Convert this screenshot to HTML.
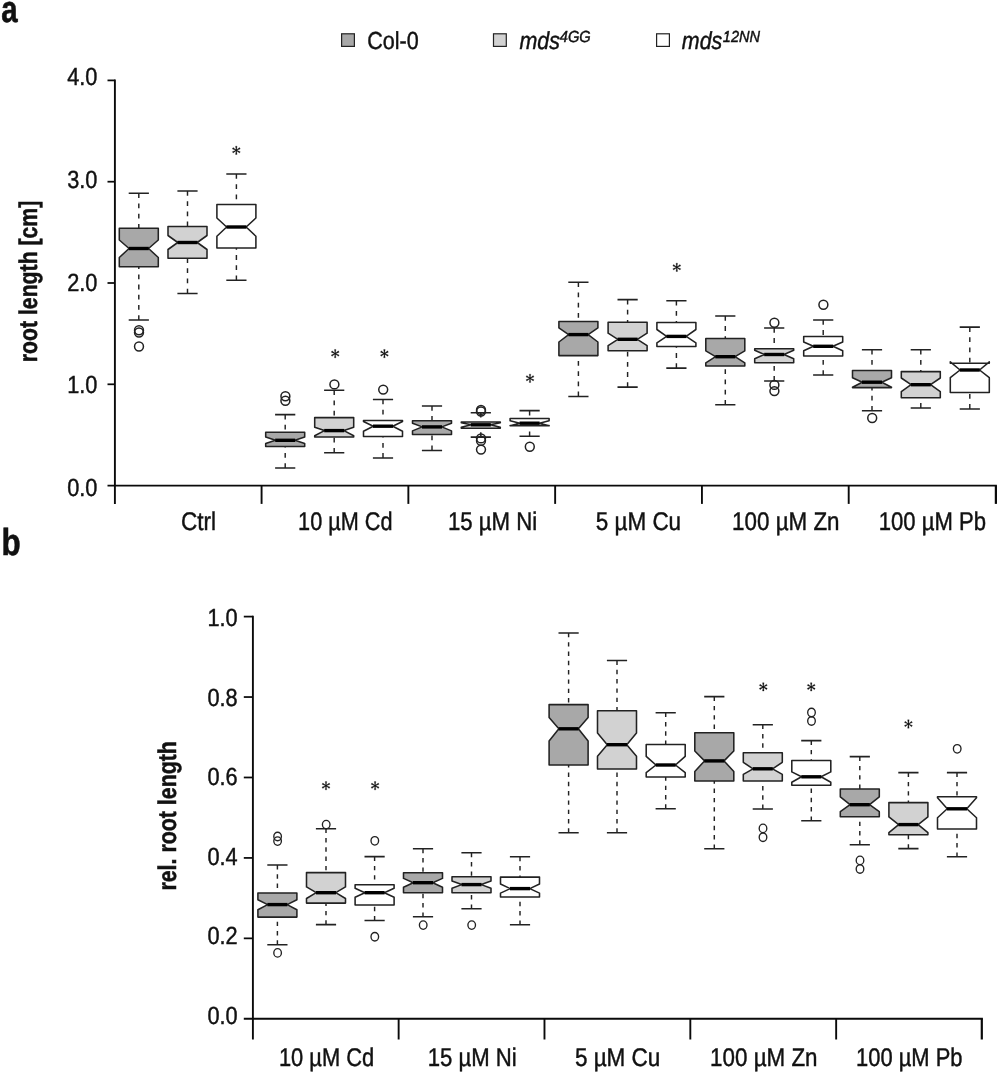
<!DOCTYPE html>
<html><head><meta charset="utf-8"><title>Figure</title>
<style>
html,body{margin:0;padding:0;background:#fff;}
body{width:1000px;height:1074px;position:relative;overflow:hidden;font-family:"Liberation Sans",sans-serif;}
</style></head><body>
<svg width="1000" height="1074" viewBox="0 0 1000 1074" style="position:absolute;left:0;top:0;will-change:transform;text-rendering:geometricPrecision">
<rect width="1000" height="1074" fill="#fff"/>
<path d="M114.9 79.60000000000001V503.9" stroke="#0a0a0a" stroke-width="1.9" fill="none"/>
<path d="M107.5 485.6H996.9" stroke="#0a0a0a" stroke-width="1.9" fill="none"/>
<path d="M107.5 80.4H114.8" stroke="#0a0a0a" stroke-width="1.75"/>
<path d="M107.5 181.7H114.8" stroke="#0a0a0a" stroke-width="1.75"/>
<path d="M107.5 283.0H114.8" stroke="#0a0a0a" stroke-width="1.75"/>
<path d="M107.5 384.3H114.8" stroke="#0a0a0a" stroke-width="1.75"/>
<path d="M261.58 485.6V503.9" stroke="#0a0a0a" stroke-width="1.9"/>
<path d="M408.36 485.6V503.9" stroke="#0a0a0a" stroke-width="1.9"/>
<path d="M555.14 485.6V503.9" stroke="#0a0a0a" stroke-width="1.9"/>
<path d="M701.92 485.6V503.9" stroke="#0a0a0a" stroke-width="1.9"/>
<path d="M848.7 485.6V503.9" stroke="#0a0a0a" stroke-width="1.9"/>
<path d="M995.88 485.6V503.9" stroke="#0a0a0a" stroke-width="2.2"/>
<path d="M252.9 615.8000000000001V1039.5" stroke="#0a0a0a" stroke-width="1.9" fill="none"/>
<path d="M243.8 1018.8H982.9" stroke="#0a0a0a" stroke-width="1.9" fill="none"/>
<path d="M243.8 616.6H252.9" stroke="#0a0a0a" stroke-width="1.75"/>
<path d="M243.8 697.04H252.9" stroke="#0a0a0a" stroke-width="1.75"/>
<path d="M243.8 777.48H252.9" stroke="#0a0a0a" stroke-width="1.75"/>
<path d="M243.8 857.92H252.9" stroke="#0a0a0a" stroke-width="1.75"/>
<path d="M243.8 938.36H252.9" stroke="#0a0a0a" stroke-width="1.75"/>
<path d="M398.64 1018.8V1039.5" stroke="#0a0a0a" stroke-width="1.9"/>
<path d="M544.48 1018.8V1039.5" stroke="#0a0a0a" stroke-width="1.9"/>
<path d="M690.32 1018.8V1039.5" stroke="#0a0a0a" stroke-width="1.9"/>
<path d="M836.16 1018.8V1039.5" stroke="#0a0a0a" stroke-width="1.9"/>
<path d="M981.8 1018.8V1039.5" stroke="#0a0a0a" stroke-width="2.2"/>
<text x="67.2" y="85.1" font-family="Liberation Sans, sans-serif" font-size="24.9" font-weight="normal" font-style="normal" text-anchor="start" fill="#111" stroke="#111" stroke-width="0.45" textLength="30.2" lengthAdjust="spacingAndGlyphs">4.0</text>
<text x="67.2" y="187.9" font-family="Liberation Sans, sans-serif" font-size="24.9" font-weight="normal" font-style="normal" text-anchor="start" fill="#111" stroke="#111" stroke-width="0.45" textLength="30.2" lengthAdjust="spacingAndGlyphs">3.0</text>
<text x="67.2" y="290.5" font-family="Liberation Sans, sans-serif" font-size="24.9" font-weight="normal" font-style="normal" text-anchor="start" fill="#111" stroke="#111" stroke-width="0.45" textLength="30.2" lengthAdjust="spacingAndGlyphs">2.0</text>
<text x="67.2" y="393" font-family="Liberation Sans, sans-serif" font-size="24.9" font-weight="normal" font-style="normal" text-anchor="start" fill="#111" stroke="#111" stroke-width="0.45" textLength="30.2" lengthAdjust="spacingAndGlyphs">1.0</text>
<text x="67.2" y="495.8" font-family="Liberation Sans, sans-serif" font-size="24.9" font-weight="normal" font-style="normal" text-anchor="start" fill="#111" stroke="#111" stroke-width="0.45" textLength="30.2" lengthAdjust="spacingAndGlyphs">0.0</text>
<text x="207.4" y="626" font-family="Liberation Sans, sans-serif" font-size="24.9" font-weight="normal" font-style="normal" text-anchor="start" fill="#111" stroke="#111" stroke-width="0.45" textLength="30.2" lengthAdjust="spacingAndGlyphs">1.0</text>
<text x="207.4" y="705.8" font-family="Liberation Sans, sans-serif" font-size="24.9" font-weight="normal" font-style="normal" text-anchor="start" fill="#111" stroke="#111" stroke-width="0.45" textLength="30.2" lengthAdjust="spacingAndGlyphs">0.8</text>
<text x="207.4" y="785.4" font-family="Liberation Sans, sans-serif" font-size="24.9" font-weight="normal" font-style="normal" text-anchor="start" fill="#111" stroke="#111" stroke-width="0.45" textLength="30.2" lengthAdjust="spacingAndGlyphs">0.6</text>
<text x="207.4" y="864.8" font-family="Liberation Sans, sans-serif" font-size="24.9" font-weight="normal" font-style="normal" text-anchor="start" fill="#111" stroke="#111" stroke-width="0.45" textLength="30.2" lengthAdjust="spacingAndGlyphs">0.4</text>
<text x="207.4" y="944" font-family="Liberation Sans, sans-serif" font-size="24.9" font-weight="normal" font-style="normal" text-anchor="start" fill="#111" stroke="#111" stroke-width="0.45" textLength="30.2" lengthAdjust="spacingAndGlyphs">0.2</text>
<text x="207.4" y="1023.7" font-family="Liberation Sans, sans-serif" font-size="24.9" font-weight="normal" font-style="normal" text-anchor="start" fill="#111" stroke="#111" stroke-width="0.45" textLength="30.2" lengthAdjust="spacingAndGlyphs">0.0</text>
<text x="181" y="529.8" font-family="Liberation Sans, sans-serif" font-size="25.5" font-weight="normal" font-style="normal" text-anchor="start" fill="#111" stroke="#111" stroke-width="0.45" textLength="35.1" lengthAdjust="spacingAndGlyphs">Ctrl</text>
<text x="298.1" y="529.8" font-family="Liberation Sans, sans-serif" font-size="25.5" font-weight="normal" font-style="normal" text-anchor="start" fill="#111" stroke="#111" stroke-width="0.45" textLength="94.4" lengthAdjust="spacingAndGlyphs">10 µM Cd</text>
<text x="447.9" y="529.8" font-family="Liberation Sans, sans-serif" font-size="25.5" font-weight="normal" font-style="normal" text-anchor="start" fill="#111" stroke="#111" stroke-width="0.45" textLength="89.2" lengthAdjust="spacingAndGlyphs">15 µM Ni</text>
<text x="595.8" y="529.8" font-family="Liberation Sans, sans-serif" font-size="25.5" font-weight="normal" font-style="normal" text-anchor="start" fill="#111" stroke="#111" stroke-width="0.45" textLength="85.3" lengthAdjust="spacingAndGlyphs">5 µM Cu</text>
<text x="732.1" y="529.8" font-family="Liberation Sans, sans-serif" font-size="25.5" font-weight="normal" font-style="normal" text-anchor="start" fill="#111" stroke="#111" stroke-width="0.45" textLength="107.4" lengthAdjust="spacingAndGlyphs">100 µM Zn</text>
<text x="878.8" y="529.8" font-family="Liberation Sans, sans-serif" font-size="25.5" font-weight="normal" font-style="normal" text-anchor="start" fill="#111" stroke="#111" stroke-width="0.45" textLength="107.3" lengthAdjust="spacingAndGlyphs">100 µM Pb</text>
<text x="278.9" y="1066" font-family="Liberation Sans, sans-serif" font-size="25.5" font-weight="normal" font-style="normal" text-anchor="start" fill="#111" stroke="#111" stroke-width="0.45" textLength="95.4" lengthAdjust="spacingAndGlyphs">10 µM Cd</text>
<text x="427.7" y="1066" font-family="Liberation Sans, sans-serif" font-size="25.5" font-weight="normal" font-style="normal" text-anchor="start" fill="#111" stroke="#111" stroke-width="0.45" textLength="89" lengthAdjust="spacingAndGlyphs">15 µM Ni</text>
<text x="574.9" y="1066" font-family="Liberation Sans, sans-serif" font-size="25.5" font-weight="normal" font-style="normal" text-anchor="start" fill="#111" stroke="#111" stroke-width="0.45" textLength="85.4" lengthAdjust="spacingAndGlyphs">5 µM Cu</text>
<text x="710.1" y="1066" font-family="Liberation Sans, sans-serif" font-size="25.5" font-weight="normal" font-style="normal" text-anchor="start" fill="#111" stroke="#111" stroke-width="0.45" textLength="107.4" lengthAdjust="spacingAndGlyphs">100 µM Zn</text>
<text x="856.1" y="1066" font-family="Liberation Sans, sans-serif" font-size="25.5" font-weight="normal" font-style="normal" text-anchor="start" fill="#111" stroke="#111" stroke-width="0.45" textLength="106.4" lengthAdjust="spacingAndGlyphs">100 µM Pb</text>
<text x="1.3" y="22.3" font-family="Liberation Sans, sans-serif" font-size="37.6" font-weight="bold" font-style="normal" text-anchor="start" fill="#111" stroke="#111" stroke-width="0.6" textLength="16.4" lengthAdjust="spacingAndGlyphs">a</text>
<text x="1.5" y="554.6" font-family="Liberation Sans, sans-serif" font-size="37.6" font-weight="bold" font-style="normal" text-anchor="start" fill="#111" stroke="#111" stroke-width="0.6" textLength="19.2" lengthAdjust="spacingAndGlyphs">b</text>
<text transform="translate(36.6 362.2) rotate(-90)" font-family="Liberation Sans, sans-serif" font-size="25.6" font-weight="bold" fill="#111" stroke="#111" stroke-width="0.5" textLength="161.5" lengthAdjust="spacingAndGlyphs">root length [cm]</text>
<text transform="translate(175.7 890.6) rotate(-90)" font-family="Liberation Sans, sans-serif" font-size="25.6" font-weight="bold" fill="#111" stroke="#111" stroke-width="0.5" textLength="149.5" lengthAdjust="spacingAndGlyphs">rel. root length</text>
<rect x="341.6" y="33.8" width="12.8" height="12.6" fill="#a8a8a8" stroke="#222" stroke-width="1.2"/>
<rect x="493.5" y="33.8" width="12.8" height="12.6" fill="#d2d2d2" stroke="#222" stroke-width="1.2"/>
<rect x="656.6" y="33.8" width="12.8" height="12.6" fill="#fff" stroke="#222" stroke-width="1.2"/>
<text x="367.2" y="49.4" font-family="Liberation Sans, sans-serif" font-size="24.6" font-weight="normal" font-style="normal" text-anchor="start" fill="#111" stroke="#111" stroke-width="0.45" textLength="51.5" lengthAdjust="spacingAndGlyphs">Col-0</text>
<text x="519.5" y="48.8" font-family="Liberation Sans, sans-serif" font-size="24.6" font-weight="normal" font-style="italic" text-anchor="start" fill="#111" stroke="#111" stroke-width="0.45" textLength="40.5" lengthAdjust="spacingAndGlyphs">mds</text>
<text x="559.8" y="42" font-family="Liberation Sans, sans-serif" font-size="16" font-weight="normal" font-style="italic" text-anchor="start" fill="#111" stroke="#111" stroke-width="0.45" textLength="31" lengthAdjust="spacingAndGlyphs">4GG</text>
<text x="681.8" y="48.8" font-family="Liberation Sans, sans-serif" font-size="24.6" font-weight="normal" font-style="italic" text-anchor="start" fill="#111" stroke="#111" stroke-width="0.45" textLength="40.5" lengthAdjust="spacingAndGlyphs">mds</text>
<text x="722.8" y="42" font-family="Liberation Sans, sans-serif" font-size="16" font-weight="normal" font-style="italic" text-anchor="start" fill="#111" stroke="#111" stroke-width="0.45" textLength="37.2" lengthAdjust="spacingAndGlyphs">12NN</text>
<path d="M138.8 193.3V228.3M138.8 320V266.8" stroke="#222" stroke-width="1.45" stroke-dasharray="4.8 5.4" fill="none"/>
<path d="M128.7 193.3H148.9M128.7 320H148.9" stroke="#222" stroke-width="1.55" fill="none"/>
<polygon points="119.3,266.8 119.3,257.5 129.05,248.5 119.3,240 119.3,228.3 158.3,228.3 158.3,240 148.55,248.5 158.3,257.5 158.3,266.8" fill="#a8a8a8" stroke="#222" stroke-width="1.55" stroke-linejoin="round"/>
<line x1="128.8" y1="248.5" x2="148.8" y2="248.5" stroke="#000" stroke-width="3.4"/>
<ellipse cx="139" cy="330.3" rx="4.45" ry="4.45" fill="none" stroke="#222" stroke-width="1.5"/>
<ellipse cx="139" cy="332.5" rx="4.45" ry="4.45" fill="none" stroke="#222" stroke-width="1.5"/>
<ellipse cx="139" cy="346.5" rx="4.45" ry="4.45" fill="none" stroke="#222" stroke-width="1.5"/>
<path d="M187.5 191V226.5M187.5 293.5V258.3" stroke="#222" stroke-width="1.45" stroke-dasharray="4.8 5.4" fill="none"/>
<path d="M177.4 191H197.6M177.4 293.5H197.6" stroke="#222" stroke-width="1.55" fill="none"/>
<polygon points="168,258.3 168,249.5 177.75,242.5 168,235.5 168,226.5 207,226.5 207,235.5 197.25,242.5 207,249.5 207,258.3" fill="#d2d2d2" stroke="#222" stroke-width="1.55" stroke-linejoin="round"/>
<line x1="177.5" y1="242.5" x2="197.5" y2="242.5" stroke="#000" stroke-width="3.4"/>
<path d="M236.4 174V204.5M236.4 280.3V248" stroke="#222" stroke-width="1.45" stroke-dasharray="4.8 5.4" fill="none"/>
<path d="M226.3 174H246.5M226.3 280.3H246.5" stroke="#222" stroke-width="1.55" fill="none"/>
<polygon points="216.9,248 216.9,236.3 226.65,227 216.9,218 216.9,204.5 255.9,204.5 255.9,218 246.15,227 255.9,236.3 255.9,248" fill="#ffffff" stroke="#222" stroke-width="1.55" stroke-linejoin="round"/>
<line x1="226.4" y1="227" x2="246.4" y2="227" stroke="#000" stroke-width="3.4"/>
<g fill="#111" stroke="#111" stroke-width="0.25" stroke-linejoin="round"><polygon points="236.52,150 237.08,146.15 235.52,146.15 236.08,150"/><polygon points="236.67,150.34 240.28,148.9 239.5,147.55 236.45,149.96"/><polygon points="236.45,150.64 239.5,153.05 240.28,151.7 236.67,150.26"/><polygon points="236.08,150.6 235.52,154.45 237.08,154.45 236.52,150.6"/><polygon points="235.93,150.26 232.32,151.7 233.1,153.05 236.15,150.64"/><polygon points="236.15,149.96 233.1,147.55 232.32,148.9 235.93,150.34"/><circle cx="236.3" cy="150.3" r="0.95"/></g>
<path d="M285.2 414.6V432.3M285.2 468V446.5" stroke="#222" stroke-width="1.45" stroke-dasharray="4.8 5.4" fill="none"/>
<path d="M275.1 414.6H295.3M275.1 468H295.3" stroke="#222" stroke-width="1.55" fill="none"/>
<polygon points="265.7,446.5 265.7,443.5 275.45,440.3 265.7,437.1 265.7,432.3 304.7,432.3 304.7,437.1 294.95,440.3 304.7,443.5 304.7,446.5" fill="#a8a8a8" stroke="#222" stroke-width="1.55" stroke-linejoin="round"/>
<line x1="275.2" y1="440.3" x2="295.2" y2="440.3" stroke="#000" stroke-width="3.4"/>
<ellipse cx="285.4" cy="396.3" rx="4.45" ry="4.45" fill="none" stroke="#222" stroke-width="1.5"/>
<ellipse cx="285.4" cy="400.7" rx="4.45" ry="4.45" fill="none" stroke="#222" stroke-width="1.5"/>
<path d="M334.2 390.3V417.6M334.2 452.8V436.9" stroke="#222" stroke-width="1.45" stroke-dasharray="4.8 5.4" fill="none"/>
<path d="M324.1 390.3H344.3M324.1 452.8H344.3" stroke="#222" stroke-width="1.55" fill="none"/>
<polygon points="314.7,436.9 314.7,435.7 324.45,430.6 314.7,427.2 314.7,417.6 353.7,417.6 353.7,427.2 343.95,430.6 353.7,435.7 353.7,436.9" fill="#d2d2d2" stroke="#222" stroke-width="1.55" stroke-linejoin="round"/>
<line x1="324.2" y1="430.6" x2="344.2" y2="430.6" stroke="#000" stroke-width="3.4"/>
<ellipse cx="334.4" cy="384.4" rx="4.45" ry="4.45" fill="none" stroke="#222" stroke-width="1.5"/>
<g fill="#111" stroke="#111" stroke-width="0.25" stroke-linejoin="round"><polygon points="335.42,353.3 335.98,349.45 334.42,349.45 334.98,353.3"/><polygon points="335.57,353.64 339.18,352.2 338.4,350.85 335.35,353.26"/><polygon points="335.35,353.94 338.4,356.35 339.18,355 335.57,353.56"/><polygon points="334.98,353.9 334.42,357.75 335.98,357.75 335.42,353.9"/><polygon points="334.83,353.56 331.22,355 332,356.35 335.05,353.94"/><polygon points="335.05,353.26 332,350.85 331.22,352.2 334.83,353.64"/><circle cx="335.2" cy="353.6" r="0.95"/></g>
<path d="M383 399.5V420.5M383 457.9V436.5" stroke="#222" stroke-width="1.45" stroke-dasharray="4.8 5.4" fill="none"/>
<path d="M372.9 399.5H393.1M372.9 457.9H393.1" stroke="#222" stroke-width="1.55" fill="none"/>
<polygon points="363.5,436.5 363.5,431.2 373.25,426.2 363.5,421.5 363.5,420.5 402.5,420.5 402.5,421.5 392.75,426.2 402.5,431.2 402.5,436.5" fill="#ffffff" stroke="#222" stroke-width="1.55" stroke-linejoin="round"/>
<line x1="373" y1="426.2" x2="393" y2="426.2" stroke="#000" stroke-width="3.4"/>
<ellipse cx="383.2" cy="389.6" rx="4.45" ry="4.45" fill="none" stroke="#222" stroke-width="1.5"/>
<g fill="#111" stroke="#111" stroke-width="0.25" stroke-linejoin="round"><polygon points="384.62,353.3 385.18,349.45 383.62,349.45 384.18,353.3"/><polygon points="384.77,353.64 388.38,352.2 387.6,350.85 384.55,353.26"/><polygon points="384.55,353.94 387.6,356.35 388.38,355 384.77,353.56"/><polygon points="384.18,353.9 383.62,357.75 385.18,357.75 384.62,353.9"/><polygon points="384.03,353.56 380.42,355 381.2,356.35 384.25,353.94"/><polygon points="384.25,353.26 381.2,350.85 380.42,352.2 384.03,353.64"/><circle cx="384.4" cy="353.6" r="0.95"/></g>
<path d="M432 405.9V420.8M432 450.4V434.4" stroke="#222" stroke-width="1.45" stroke-dasharray="4.8 5.4" fill="none"/>
<path d="M421.9 405.9H442.1M421.9 450.4H442.1" stroke="#222" stroke-width="1.55" fill="none"/>
<polygon points="412.5,434.4 412.5,430.9 422.25,426.9 412.5,423.2 412.5,420.8 451.5,420.8 451.5,423.2 441.75,426.9 451.5,430.9 451.5,434.4" fill="#a8a8a8" stroke="#222" stroke-width="1.55" stroke-linejoin="round"/>
<line x1="422" y1="426.9" x2="442" y2="426.9" stroke="#000" stroke-width="3.4"/>
<path d="M480.8 412.8V421.9M480.8 437.1V428.3" stroke="#222" stroke-width="1.45" stroke-dasharray="4.8 5.4" fill="none"/>
<path d="M470.7 412.8H490.9M470.7 437.1H490.9" stroke="#222" stroke-width="1.55" fill="none"/>
<polygon points="461.3,428.3 461.3,427.2 471.05,424.8 461.3,422.7 461.3,421.9 500.3,421.9 500.3,422.7 490.55,424.8 500.3,427.2 500.3,428.3" fill="#d2d2d2" stroke="#222" stroke-width="1.55" stroke-linejoin="round"/>
<line x1="470.8" y1="424.8" x2="490.8" y2="424.8" stroke="#000" stroke-width="3.4"/>
<ellipse cx="481" cy="409.9" rx="4.45" ry="4.45" fill="none" stroke="#222" stroke-width="1.5"/>
<ellipse cx="481" cy="411.5" rx="4.45" ry="4.45" fill="none" stroke="#222" stroke-width="1.5"/>
<ellipse cx="481" cy="438.4" rx="4.45" ry="4.45" fill="none" stroke="#222" stroke-width="1.5"/>
<ellipse cx="481" cy="440.8" rx="4.45" ry="4.45" fill="none" stroke="#222" stroke-width="1.5"/>
<ellipse cx="481" cy="449.6" rx="4.45" ry="4.45" fill="none" stroke="#222" stroke-width="1.5"/>
<path d="M529.6 410.6V418.4M529.6 436.3V425.6" stroke="#222" stroke-width="1.45" stroke-dasharray="4.8 5.4" fill="none"/>
<path d="M519.5 410.6H539.7M519.5 436.3H539.7" stroke="#222" stroke-width="1.55" fill="none"/>
<polygon points="510.1,425.6 510.1,425.8 519.85,423.2 510.1,420.8 510.1,418.4 549.1,418.4 549.1,420.8 539.35,423.2 549.1,425.8 549.1,425.6" fill="#ffffff" stroke="#222" stroke-width="1.55" stroke-linejoin="round"/>
<line x1="519.6" y1="423.2" x2="539.6" y2="423.2" stroke="#000" stroke-width="3.4"/>
<ellipse cx="529.8" cy="446.7" rx="4.45" ry="4.45" fill="none" stroke="#222" stroke-width="1.5"/>
<g fill="#111" stroke="#111" stroke-width="0.25" stroke-linejoin="round"><polygon points="530.22,378 530.78,374.15 529.22,374.15 529.78,378"/><polygon points="530.37,378.34 533.98,376.9 533.2,375.55 530.15,377.96"/><polygon points="530.15,378.64 533.2,381.05 533.98,379.7 530.37,378.26"/><polygon points="529.78,378.6 529.22,382.45 530.78,382.45 530.22,378.6"/><polygon points="529.63,378.26 526.02,379.7 526.8,381.05 529.85,378.64"/><polygon points="529.85,377.96 526.8,375.55 526.02,376.9 529.63,378.34"/><circle cx="530" cy="378.3" r="0.95"/></g>
<path d="M578.4 282.3V321.5M578.4 396.4V355.6" stroke="#222" stroke-width="1.45" stroke-dasharray="4.8 5.4" fill="none"/>
<path d="M568.3 282.3H588.5M568.3 396.4H588.5" stroke="#222" stroke-width="1.55" fill="none"/>
<polygon points="558.9,355.6 558.9,342 568.65,334.6 558.9,327.9 558.9,321.5 597.9,321.5 597.9,327.9 588.15,334.6 597.9,342 597.9,355.6" fill="#a8a8a8" stroke="#222" stroke-width="1.55" stroke-linejoin="round"/>
<line x1="568.4" y1="334.6" x2="588.4" y2="334.6" stroke="#000" stroke-width="3.4"/>
<path d="M627.6 299.6V322.2M627.6 387.1V350.8" stroke="#222" stroke-width="1.45" stroke-dasharray="4.8 5.4" fill="none"/>
<path d="M617.5 299.6H637.7M617.5 387.1H637.7" stroke="#222" stroke-width="1.55" fill="none"/>
<polygon points="608.1,350.8 608.1,345.7 617.85,339.3 608.1,333.2 608.1,322.2 647.1,322.2 647.1,333.2 637.35,339.3 647.1,345.7 647.1,350.8" fill="#d2d2d2" stroke="#222" stroke-width="1.55" stroke-linejoin="round"/>
<line x1="617.6" y1="339.3" x2="637.6" y2="339.3" stroke="#000" stroke-width="3.4"/>
<path d="M676.4 300.7V322.5M676.4 368.1V346.5" stroke="#222" stroke-width="1.45" stroke-dasharray="4.8 5.4" fill="none"/>
<path d="M666.3 300.7H686.5M666.3 368.1H686.5" stroke="#222" stroke-width="1.55" fill="none"/>
<polygon points="656.9,346.5 656.9,342.8 666.65,336.4 656.9,329.5 656.9,322.5 695.9,322.5 695.9,329.5 686.15,336.4 695.9,342.8 695.9,346.5" fill="#ffffff" stroke="#222" stroke-width="1.55" stroke-linejoin="round"/>
<line x1="666.4" y1="336.4" x2="686.4" y2="336.4" stroke="#000" stroke-width="3.4"/>
<g fill="#111" stroke="#111" stroke-width="0.25" stroke-linejoin="round"><polygon points="677.02,267 677.58,263.15 676.02,263.15 676.58,267"/><polygon points="677.17,267.34 680.78,265.9 680,264.55 676.95,266.96"/><polygon points="676.95,267.64 680,270.05 680.78,268.7 677.17,267.26"/><polygon points="676.58,267.6 676.02,271.45 677.58,271.45 677.02,267.6"/><polygon points="676.43,267.26 672.82,268.7 673.6,270.05 676.65,267.64"/><polygon points="676.65,266.96 673.6,264.55 672.82,265.9 676.43,267.34"/><circle cx="676.8" cy="267.3" r="0.95"/></g>
<path d="M725.3 315.9V338.5M725.3 404.7V366" stroke="#222" stroke-width="1.45" stroke-dasharray="4.8 5.4" fill="none"/>
<path d="M715.2 315.9H735.4M715.2 404.7H735.4" stroke="#222" stroke-width="1.55" fill="none"/>
<polygon points="705.8,366 705.8,362.8 715.55,356.7 705.8,350.8 705.8,338.5 744.8,338.5 744.8,350.8 735.05,356.7 744.8,362.8 744.8,366" fill="#a8a8a8" stroke="#222" stroke-width="1.55" stroke-linejoin="round"/>
<line x1="715.3" y1="356.7" x2="735.3" y2="356.7" stroke="#000" stroke-width="3.4"/>
<path d="M774.2 327.9V348.7M774.2 380.9V362.8" stroke="#222" stroke-width="1.45" stroke-dasharray="4.8 5.4" fill="none"/>
<path d="M764.1 327.9H784.3M764.1 380.9H784.3" stroke="#222" stroke-width="1.55" fill="none"/>
<polygon points="754.7,362.8 754.7,358.8 764.45,354.5 754.7,350.3 754.7,348.7 793.7,348.7 793.7,350.3 783.95,354.5 793.7,358.8 793.7,362.8" fill="#d2d2d2" stroke="#222" stroke-width="1.55" stroke-linejoin="round"/>
<line x1="764.2" y1="354.5" x2="784.2" y2="354.5" stroke="#000" stroke-width="3.4"/>
<ellipse cx="774.4" cy="322.8" rx="4.45" ry="4.45" fill="none" stroke="#222" stroke-width="1.5"/>
<ellipse cx="774.4" cy="384.9" rx="4.45" ry="4.45" fill="none" stroke="#222" stroke-width="1.5"/>
<ellipse cx="774.4" cy="391.1" rx="4.45" ry="4.45" fill="none" stroke="#222" stroke-width="1.5"/>
<path d="M823.2 319.9V336.4M823.2 375V355.9" stroke="#222" stroke-width="1.45" stroke-dasharray="4.8 5.4" fill="none"/>
<path d="M813.1 319.9H833.3M813.1 375H833.3" stroke="#222" stroke-width="1.55" fill="none"/>
<polygon points="803.7,355.9 803.7,350.8 813.45,346.3 803.7,342 803.7,336.4 842.7,336.4 842.7,342 832.95,346.3 842.7,350.8 842.7,355.9" fill="#ffffff" stroke="#222" stroke-width="1.55" stroke-linejoin="round"/>
<line x1="813.2" y1="346.3" x2="833.2" y2="346.3" stroke="#000" stroke-width="3.4"/>
<ellipse cx="823.4" cy="304.7" rx="4.45" ry="4.45" fill="none" stroke="#222" stroke-width="1.5"/>
<path d="M872 349.7V370.5M872 410.8V387.6" stroke="#222" stroke-width="1.45" stroke-dasharray="4.8 5.4" fill="none"/>
<path d="M861.9 349.7H882.1M861.9 410.8H882.1" stroke="#222" stroke-width="1.55" fill="none"/>
<polygon points="852.5,387.6 852.5,387.2 862.25,382.2 852.5,377.7 852.5,370.5 891.5,370.5 891.5,377.7 881.75,382.2 891.5,387.2 891.5,387.6" fill="#a8a8a8" stroke="#222" stroke-width="1.55" stroke-linejoin="round"/>
<line x1="862" y1="382.2" x2="882" y2="382.2" stroke="#000" stroke-width="3.4"/>
<ellipse cx="872.2" cy="418" rx="4.45" ry="4.45" fill="none" stroke="#222" stroke-width="1.5"/>
<path d="M920.8 349.7V371.6M920.8 407.9V397.7" stroke="#222" stroke-width="1.45" stroke-dasharray="4.8 5.4" fill="none"/>
<path d="M910.7 349.7H930.9M910.7 407.9H930.9" stroke="#222" stroke-width="1.55" fill="none"/>
<polygon points="901.3,397.7 901.3,391.6 911.05,384.7 901.3,378 901.3,371.6 940.3,371.6 940.3,378 930.55,384.7 940.3,391.6 940.3,397.7" fill="#d2d2d2" stroke="#222" stroke-width="1.55" stroke-linejoin="round"/>
<line x1="910.8" y1="384.7" x2="930.8" y2="384.7" stroke="#000" stroke-width="3.4"/>
<path d="M969.8 327.1V363.3M969.8 408.9V392.4" stroke="#222" stroke-width="1.45" stroke-dasharray="4.8 5.4" fill="none"/>
<path d="M959.7 327.1H979.9M959.7 408.9H979.9" stroke="#222" stroke-width="1.55" fill="none"/>
<polygon points="950.3,392.4 950.3,377.7 960.05,370 950.3,361.8 950.3,363.3 989.3,363.3 989.3,361.8 979.55,370 989.3,377.7 989.3,392.4" fill="#ffffff" stroke="#222" stroke-width="1.55" stroke-linejoin="round"/>
<line x1="959.8" y1="370" x2="979.8" y2="370" stroke="#000" stroke-width="3.4"/>
<path d="M277.4 865V892.9M277.4 944.7V917.1" stroke="#222" stroke-width="1.45" stroke-dasharray="4.4 4.9" fill="none"/>
<path d="M267.3 865H287.5M267.3 944.7H287.5" stroke="#222" stroke-width="1.55" fill="none"/>
<polygon points="257.9,917.1 257.9,909.7 267.65,904.6 257.9,899.8 257.9,892.9 296.9,892.9 296.9,899.8 287.15,904.6 296.9,909.7 296.9,917.1" fill="#a8a8a8" stroke="#222" stroke-width="1.55" stroke-linejoin="round"/>
<line x1="267.4" y1="904.6" x2="287.4" y2="904.6" stroke="#000" stroke-width="3.4"/>
<ellipse cx="277.6" cy="836.5" rx="3.8" ry="4.25" fill="none" stroke="#222" stroke-width="1.35"/>
<ellipse cx="277.6" cy="841.1" rx="3.8" ry="4.25" fill="none" stroke="#222" stroke-width="1.35"/>
<ellipse cx="277.6" cy="952.9" rx="3.8" ry="4.25" fill="none" stroke="#222" stroke-width="1.35"/>
<path d="M326 828.7V872.6M326 924.6V903.1" stroke="#222" stroke-width="1.45" stroke-dasharray="4.4 4.9" fill="none"/>
<path d="M315.9 828.7H336.1M315.9 924.6H336.1" stroke="#222" stroke-width="1.55" fill="none"/>
<polygon points="306.5,903.1 306.5,898.5 316.25,892.7 306.5,886.9 306.5,872.6 345.5,872.6 345.5,886.9 335.75,892.7 345.5,898.5 345.5,903.1" fill="#d2d2d2" stroke="#222" stroke-width="1.55" stroke-linejoin="round"/>
<line x1="316" y1="892.7" x2="336" y2="892.7" stroke="#000" stroke-width="3.4"/>
<ellipse cx="326.2" cy="824.6" rx="3.8" ry="4.25" fill="none" stroke="#222" stroke-width="1.35"/>
<g fill="#111" stroke="#111" stroke-width="0.25" stroke-linejoin="round"><polygon points="326.22,785.4 326.78,781.55 325.22,781.55 325.78,785.4"/><polygon points="326.37,785.74 329.98,784.3 329.2,782.95 326.15,785.36"/><polygon points="326.15,786.04 329.2,788.45 329.98,787.1 326.37,785.66"/><polygon points="325.78,786 325.22,789.85 326.78,789.85 326.22,786"/><polygon points="325.63,785.66 322.02,787.1 322.8,788.45 325.85,786.04"/><polygon points="325.85,785.36 322.8,782.95 322.02,784.3 325.63,785.74"/><circle cx="326" cy="785.7" r="0.95"/></g>
<path d="M374.6 856.6V884.7M374.6 920.5V905" stroke="#222" stroke-width="1.45" stroke-dasharray="4.4 4.9" fill="none"/>
<path d="M364.5 856.6H384.7M364.5 920.5H384.7" stroke="#222" stroke-width="1.55" fill="none"/>
<polygon points="355.1,905 355.1,897.2 364.85,892.7 355.1,888.2 355.1,884.7 394.1,884.7 394.1,888.2 384.35,892.7 394.1,897.2 394.1,905" fill="#ffffff" stroke="#222" stroke-width="1.55" stroke-linejoin="round"/>
<line x1="364.6" y1="892.7" x2="384.6" y2="892.7" stroke="#000" stroke-width="3.4"/>
<ellipse cx="374.8" cy="840.8" rx="3.8" ry="4.25" fill="none" stroke="#222" stroke-width="1.35"/>
<ellipse cx="374.8" cy="936.7" rx="3.8" ry="4.25" fill="none" stroke="#222" stroke-width="1.35"/>
<g fill="#111" stroke="#111" stroke-width="0.25" stroke-linejoin="round"><polygon points="375.32,785.4 375.88,781.55 374.32,781.55 374.88,785.4"/><polygon points="375.47,785.74 379.08,784.3 378.3,782.95 375.25,785.36"/><polygon points="375.25,786.04 378.3,788.45 379.08,787.1 375.47,785.66"/><polygon points="374.88,786 374.32,789.85 375.88,789.85 375.32,786"/><polygon points="374.73,785.66 371.12,787.1 371.9,788.45 374.95,786.04"/><polygon points="374.95,785.36 371.9,782.95 371.12,784.3 374.73,785.74"/><circle cx="375.1" cy="785.7" r="0.95"/></g>
<path d="M423 848.8V872.8M423 916.8V892.8" stroke="#222" stroke-width="1.45" stroke-dasharray="4.4 4.9" fill="none"/>
<path d="M412.9 848.8H433.1M412.9 916.8H433.1" stroke="#222" stroke-width="1.55" fill="none"/>
<polygon points="403.5,892.8 403.5,887.2 413.25,882.7 403.5,878.4 403.5,872.8 442.5,872.8 442.5,878.4 432.75,882.7 442.5,887.2 442.5,892.8" fill="#a8a8a8" stroke="#222" stroke-width="1.55" stroke-linejoin="round"/>
<line x1="413" y1="882.7" x2="433" y2="882.7" stroke="#000" stroke-width="3.4"/>
<ellipse cx="423.2" cy="925.1" rx="3.8" ry="4.25" fill="none" stroke="#222" stroke-width="1.35"/>
<path d="M471.5 852.8V876.8M471.5 908.8V892.8" stroke="#222" stroke-width="1.45" stroke-dasharray="4.4 4.9" fill="none"/>
<path d="M461.4 852.8H481.6M461.4 908.8H481.6" stroke="#222" stroke-width="1.55" fill="none"/>
<polygon points="452,892.8 452,888.3 461.75,884.6 452,881.1 452,876.8 491,876.8 491,881.1 481.25,884.6 491,888.3 491,892.8" fill="#d2d2d2" stroke="#222" stroke-width="1.55" stroke-linejoin="round"/>
<line x1="461.5" y1="884.6" x2="481.5" y2="884.6" stroke="#000" stroke-width="3.4"/>
<ellipse cx="471.7" cy="925.1" rx="3.8" ry="4.25" fill="none" stroke="#222" stroke-width="1.35"/>
<path d="M520 856.8V877.1M520 924.8V897" stroke="#222" stroke-width="1.45" stroke-dasharray="4.4 4.9" fill="none"/>
<path d="M509.9 856.8H530.1M509.9 924.8H530.1" stroke="#222" stroke-width="1.55" fill="none"/>
<polygon points="500.5,897 500.5,893.1 510.25,888.6 500.5,884 500.5,877.1 539.5,877.1 539.5,884 529.75,888.6 539.5,893.1 539.5,897" fill="#ffffff" stroke="#222" stroke-width="1.55" stroke-linejoin="round"/>
<line x1="510" y1="888.6" x2="530" y2="888.6" stroke="#000" stroke-width="3.4"/>
<path d="M568.6 632.9V704.6M568.6 832.7V765" stroke="#222" stroke-width="1.45" stroke-dasharray="4.4 4.9" fill="none"/>
<path d="M558.5 632.9H578.7M558.5 832.7H578.7" stroke="#222" stroke-width="1.55" fill="none"/>
<polygon points="549.1,765 549.1,741 558.85,728.8 549.1,717.5 549.1,704.6 588.1,704.6 588.1,717.5 578.35,728.8 588.1,741 588.1,765" fill="#a8a8a8" stroke="#222" stroke-width="1.55" stroke-linejoin="round"/>
<line x1="558.6" y1="728.8" x2="578.6" y2="728.8" stroke="#000" stroke-width="3.4"/>
<path d="M617 660.5V710.8M617 832.7V768.9" stroke="#222" stroke-width="1.45" stroke-dasharray="4.4 4.9" fill="none"/>
<path d="M606.9 660.5H627.1M606.9 832.7H627.1" stroke="#222" stroke-width="1.55" fill="none"/>
<polygon points="597.5,768.9 597.5,756.2 607.25,744.7 597.5,733.1 597.5,710.8 636.5,710.8 636.5,733.1 626.75,744.7 636.5,756.2 636.5,768.9" fill="#d2d2d2" stroke="#222" stroke-width="1.55" stroke-linejoin="round"/>
<line x1="607" y1="744.7" x2="627" y2="744.7" stroke="#000" stroke-width="3.4"/>
<path d="M665.7 712.7V744.4M665.7 808.7V777" stroke="#222" stroke-width="1.45" stroke-dasharray="4.4 4.9" fill="none"/>
<path d="M655.6 712.7H675.8M655.6 808.7H675.8" stroke="#222" stroke-width="1.55" fill="none"/>
<polygon points="646.2,777 646.2,772.7 655.95,765 646.2,756.4 646.2,744.4 685.2,744.4 685.2,756.4 675.45,765 685.2,772.7 685.2,777" fill="#ffffff" stroke="#222" stroke-width="1.55" stroke-linejoin="round"/>
<line x1="655.7" y1="765" x2="675.7" y2="765" stroke="#000" stroke-width="3.4"/>
<path d="M714.3 696.6V732.8M714.3 848.8V780.9" stroke="#222" stroke-width="1.45" stroke-dasharray="4.4 4.9" fill="none"/>
<path d="M704.2 696.6H724.4M704.2 848.8H724.4" stroke="#222" stroke-width="1.55" fill="none"/>
<polygon points="694.8,780.9 694.8,771.5 704.55,760.9 694.8,751 694.8,732.8 733.8,732.8 733.8,751 724.05,760.9 733.8,771.5 733.8,780.9" fill="#a8a8a8" stroke="#222" stroke-width="1.55" stroke-linejoin="round"/>
<line x1="704.3" y1="760.9" x2="724.3" y2="760.9" stroke="#000" stroke-width="3.4"/>
<path d="M762.8 724.7V752.7M762.8 809V780.9" stroke="#222" stroke-width="1.45" stroke-dasharray="4.4 4.9" fill="none"/>
<path d="M752.7 724.7H772.9M752.7 809H772.9" stroke="#222" stroke-width="1.55" fill="none"/>
<polygon points="743.3,780.9 743.3,774.4 753.05,768.8 743.3,762.3 743.3,752.7 782.3,752.7 782.3,762.3 772.55,768.8 782.3,774.4 782.3,780.9" fill="#d2d2d2" stroke="#222" stroke-width="1.55" stroke-linejoin="round"/>
<line x1="752.8" y1="768.8" x2="772.8" y2="768.8" stroke="#000" stroke-width="3.4"/>
<ellipse cx="763" cy="828.4" rx="3.8" ry="4.25" fill="none" stroke="#222" stroke-width="1.35"/>
<ellipse cx="763" cy="837.2" rx="3.8" ry="4.25" fill="none" stroke="#222" stroke-width="1.35"/>
<g fill="#111" stroke="#111" stroke-width="0.25" stroke-linejoin="round"><polygon points="763.52,686.6 764.08,682.75 762.52,682.75 763.08,686.6"/><polygon points="763.67,686.94 767.28,685.5 766.5,684.15 763.45,686.56"/><polygon points="763.45,687.24 766.5,689.65 767.28,688.3 763.67,686.86"/><polygon points="763.08,687.2 762.52,691.05 764.08,691.05 763.52,687.2"/><polygon points="762.93,686.86 759.32,688.3 760.1,689.65 763.15,687.24"/><polygon points="763.15,686.56 760.1,684.15 759.32,685.5 762.93,686.94"/><circle cx="763.3" cy="686.9" r="0.95"/></g>
<path d="M811.3 740.6V760.5M811.3 820.8V785.2" stroke="#222" stroke-width="1.45" stroke-dasharray="4.4 4.9" fill="none"/>
<path d="M801.2 740.6H821.4M801.2 820.8H821.4" stroke="#222" stroke-width="1.55" fill="none"/>
<polygon points="791.8,785.2 791.8,782.2 801.55,776.8 791.8,771.9 791.8,760.5 830.8,760.5 830.8,771.9 821.05,776.8 830.8,782.2 830.8,785.2" fill="#ffffff" stroke="#222" stroke-width="1.55" stroke-linejoin="round"/>
<line x1="801.3" y1="776.8" x2="821.3" y2="776.8" stroke="#000" stroke-width="3.4"/>
<ellipse cx="811.5" cy="712.5" rx="3.8" ry="4.25" fill="none" stroke="#222" stroke-width="1.35"/>
<ellipse cx="811.5" cy="721" rx="3.8" ry="4.25" fill="none" stroke="#222" stroke-width="1.35"/>
<g fill="#111" stroke="#111" stroke-width="0.25" stroke-linejoin="round"><polygon points="811.42,686.6 811.98,682.75 810.42,682.75 810.98,686.6"/><polygon points="811.57,686.94 815.18,685.5 814.4,684.15 811.35,686.56"/><polygon points="811.35,687.24 814.4,689.65 815.18,688.3 811.57,686.86"/><polygon points="810.98,687.2 810.42,691.05 811.98,691.05 811.42,687.2"/><polygon points="810.83,686.86 807.22,688.3 808,689.65 811.05,687.24"/><polygon points="811.05,686.56 808,684.15 807.22,685.5 810.83,686.94"/><circle cx="811.2" cy="686.9" r="0.95"/></g>
<path d="M859.8 756.6V789M859.8 844.7V816.8" stroke="#222" stroke-width="1.45" stroke-dasharray="4.4 4.9" fill="none"/>
<path d="M849.7 756.6H869.9M849.7 844.7H869.9" stroke="#222" stroke-width="1.55" fill="none"/>
<polygon points="840.3,816.8 840.3,811.7 850.05,804.7 840.3,796.8 840.3,789 879.3,789 879.3,796.8 869.55,804.7 879.3,811.7 879.3,816.8" fill="#a8a8a8" stroke="#222" stroke-width="1.55" stroke-linejoin="round"/>
<line x1="849.8" y1="804.7" x2="869.8" y2="804.7" stroke="#000" stroke-width="3.4"/>
<ellipse cx="860" cy="860.4" rx="3.8" ry="4.25" fill="none" stroke="#222" stroke-width="1.35"/>
<ellipse cx="860" cy="869" rx="3.8" ry="4.25" fill="none" stroke="#222" stroke-width="1.35"/>
<path d="M908.4 772.6V802.6M908.4 848.6V834.8" stroke="#222" stroke-width="1.45" stroke-dasharray="4.4 4.9" fill="none"/>
<path d="M898.3 772.6H918.5M898.3 848.6H918.5" stroke="#222" stroke-width="1.55" fill="none"/>
<polygon points="888.9,834.8 888.9,832.6 898.65,824.6 888.9,816.9 888.9,802.6 927.9,802.6 927.9,816.9 918.15,824.6 927.9,832.6 927.9,834.8" fill="#d2d2d2" stroke="#222" stroke-width="1.55" stroke-linejoin="round"/>
<line x1="898.4" y1="824.6" x2="918.4" y2="824.6" stroke="#000" stroke-width="3.4"/>
<g fill="#111" stroke="#111" stroke-width="0.25" stroke-linejoin="round"><polygon points="908.62,723.7 909.18,719.85 907.62,719.85 908.18,723.7"/><polygon points="908.77,724.04 912.38,722.6 911.6,721.25 908.55,723.66"/><polygon points="908.55,724.34 911.6,726.75 912.38,725.4 908.77,723.96"/><polygon points="908.18,724.3 907.62,728.15 909.18,728.15 908.62,724.3"/><polygon points="908.03,723.96 904.42,725.4 905.2,726.75 908.25,724.34"/><polygon points="908.25,723.66 905.2,721.25 904.42,722.6 908.03,724.04"/><circle cx="908.4" cy="724" r="0.95"/></g>
<path d="M957 772.6V796.8M957 856.8V828.9" stroke="#222" stroke-width="1.45" stroke-dasharray="4.4 4.9" fill="none"/>
<path d="M946.9 772.6H967.1M946.9 856.8H967.1" stroke="#222" stroke-width="1.55" fill="none"/>
<polygon points="937.5,828.9 937.5,817.7 947.25,808.8 937.5,797.8 937.5,796.8 976.5,796.8 976.5,797.8 966.75,808.8 976.5,817.7 976.5,828.9" fill="#ffffff" stroke="#222" stroke-width="1.55" stroke-linejoin="round"/>
<line x1="947" y1="808.8" x2="967" y2="808.8" stroke="#000" stroke-width="3.4"/>
<ellipse cx="957.2" cy="748.8" rx="3.8" ry="4.25" fill="none" stroke="#222" stroke-width="1.35"/>
</svg>
</body></html>
